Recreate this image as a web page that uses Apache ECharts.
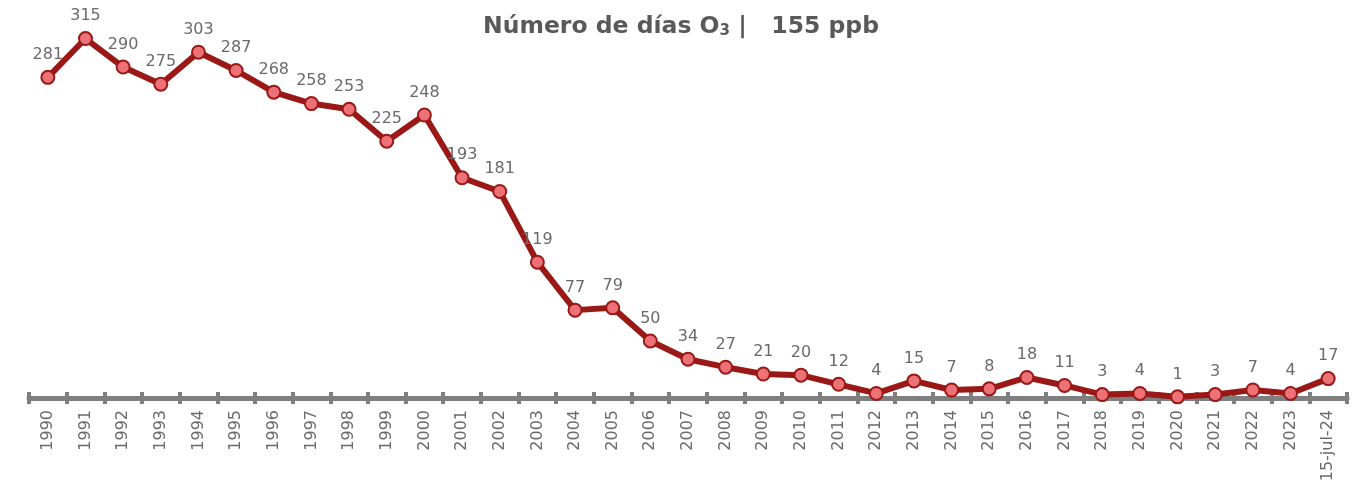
<!DOCTYPE html>
<html><head><meta charset="utf-8">
<script src="https://cdn.jsdelivr.net/npm/echarts@6/dist/echarts.min.js"></script>
<style>html,body{margin:0;padding:0;background:#fff}#c{width:1362px;height:491px}</style>
</head><body><div id="c"></div>
<script>
const categories = ['1990','1991','1992','1993','1994','1995','1996','1997','1998','1999','2000','2001','2002','2003','2004','2005','2006','2007','2008','2009','2010','2011','2012','2013','2014','2015','2016','2017','2018','2019','2020','2021','2022','2023','15-jul-24'];
const dias = [281,315,290,275,303,287,268,258,253,225,248,193,181,119,77,79,50,34,27,21,20,12,4,15,7,8,18,11,3,4,1,3,7,4,17];

const chart = echarts.init(document.getElementById('c'));
chart.setOption({
  animation: false,
  title: {
    text: '{a|Número de días O}{s|3}{a| |   155 ppb}',
    left: 'center', top: 9,
    textStyle: {
      rich: {
        a: {fontFamily: 'DejaVu Sans', fontWeight: 'bold', fontSize: 23.5, color: '#595959'},
        s: {fontFamily: 'DejaVu Sans', fontWeight: 'bold', fontSize: 15, color: '#595959', verticalAlign: 'bottom', padding: [10,0,0,0]}
      }
    },
    padding: [5, 24, 5, 5]
  },
  grid: {left: 29, right: 15, top: 10, bottom: 93},
  xAxis: [{
    type: 'category', data: categories, boundaryGap: true, position: 'bottom',
    axisLine: {show: true, lineStyle: {color: '#7f7f7f', width: 5}},
    axisTick: {show: true, interval: 0, length: 6, lineStyle: {color: '#7f7f7f', width: 4}},
    axisLabel: {interval: 0, rotate: 90, color: '#6a6a6a', fontFamily: 'DejaVu Sans', fontSize: 16, margin: 12}
  }, {
    type: 'category', data: categories, boundaryGap: true, position: 'bottom', offset: 0,
    axisLine: {show: false},
    axisTick: {show: true, interval: 0, inside: true, length: 6, lineStyle: {color: '#7f7f7f', width: 4}},
    axisLabel: {show: false, interval: 0}
  }],
  yAxis: {type: 'value', min: 0, max: 340, show: false, splitLine: {show: false}},
  series: [{
    type: 'line', data: dias, xAxisIndex: 0,
    lineStyle: {color: '#9a1815', width: 6},
    symbol: 'circle', symbolSize: 13,
    itemStyle: {color: '#ec7278', borderColor: '#9a1815', borderWidth: 2},
    label: {show: true, position: 'top', distance: 7, color: '#6a6a6a', fontFamily: 'DejaVu Sans', fontSize: 16}
  }]
});
</script></body></html>
